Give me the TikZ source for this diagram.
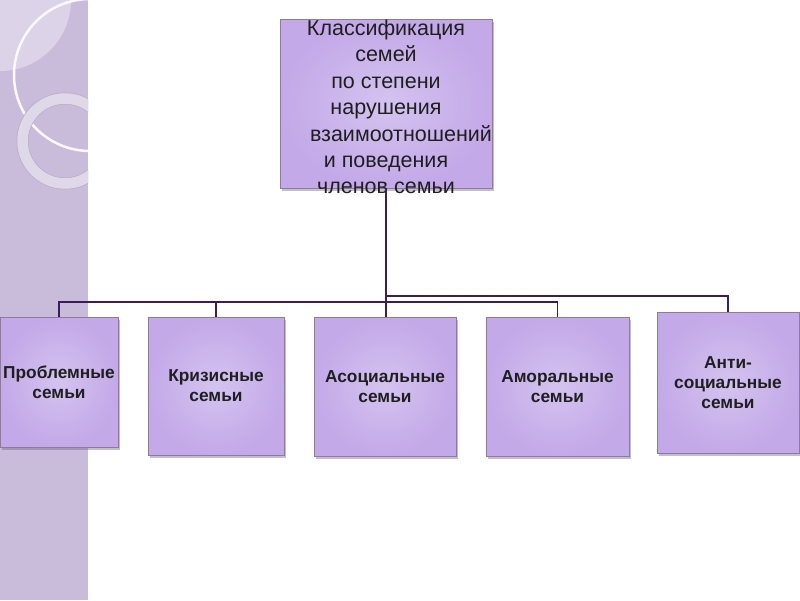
\documentclass[tikz,border=0pt]{standalone}
\usepackage{fontspec}
\setmainfont{Liberation Sans}
\usetikzlibrary{shadows}

\definecolor{stripe}{HTML}{C9BCDA}
\definecolor{stripelight}{HTML}{DCD3E8}
\definecolor{ringcol}{HTML}{DFD8E8}
\definecolor{boxlight}{HTML}{D4C3EF}
\definecolor{boxdark}{HTML}{C3A9E8}
\definecolor{boxline}{HTML}{8C7AA0}
\definecolor{linkcol}{HTML}{3A1E5A}

\tikzset{
  famnode/.style={draw=boxline, line width=0.8pt, shading=radial,
    inner color=boxlight, outer color=boxdark, inner sep=0pt,
    align=center, text=black!88,
    drop shadow={shadow xshift=2pt, shadow yshift=-2.5pt, opacity=0.4, fill=black!60}},
  topbox/.style={famnode, minimum width=212pt, minimum height=169pt},
  headtext/.style={inner sep=0pt, align=center, text=black!88, yshift=-3.5pt,
    font=\fontsize{21.5}{26.4}\selectfont},
  kindbox/.style={famnode, font=\bfseries\fontsize{17.3}{20}\selectfont},
  link/.style={draw=linkcol, line width=1.5pt}
}

\begin{document}
\begin{tikzpicture}[x=1pt,y=-1pt]
  \useasboundingbox (0,0) rectangle (800,600);
  \fill[white] (0,0) rectangle (800,600);

  % left stripe with the circles
  \fill[stripe] (0,0) rectangle (88,600);
  \begin{scope}
    \clip (0,0) rectangle (88,600);
    \fill[stripelight] (0,0) circle[radius=71pt];
    \draw[white!90!stripe, line width=2.5pt] (90,75) circle[radius=76pt];
    \draw[boxline!60, line width=12pt] (65,141) circle[radius=42.5pt];
    \draw[ringcol, line width=10.5pt] (65,141) circle[radius=42.5pt];
  \end{scope}

  % heading box
  \node[topbox] (cls) at (386,103.5) {};
  \node[headtext] (clstext) at (cls.center) {Классификация\\
    семей\hspace*{22pt}\\
    по степени\hspace*{26pt}\\
    нарушения\hspace*{24pt}\\
    \hspace*{30pt}взаимоотношений\\
    и поведения\hspace*{28pt}\\
    членов семьи};

  % the five kinds
  \node[kindbox, minimum width=118pt, minimum height=130pt] (p1) at (59,382) {Проблемные\\семьи};
  \node[kindbox, minimum width=136pt, minimum height=138pt] (p2) at (216,386) {Кризисные\\семьи};
  \node[kindbox, minimum width=142pt, minimum height=139pt] (p3) at (385,386.5) {Асоциальные\\семьи};
  \node[kindbox, minimum width=143pt, minimum height=139pt] (p4) at (557.5,386.5) {Аморальные\\семьи};
  \node[kindbox, minimum width=142pt, minimum height=141pt] (p5) at (728,382.5) {Анти-\\социальные\\семьи};

  % connectors
  \coordinate (hA) at (386,302);
  \coordinate (hB) at (386,296);
  \draw[link] (cls.south) -- (cls.south |- p3.north);
  \draw[link] (p1.north) |- (hA) -| (p4.north);
  \draw[link] (p2.north) -- (p2.north |- hA);
  \draw[link] (hB) -| (p5.north);
\end{tikzpicture}
\end{document}
